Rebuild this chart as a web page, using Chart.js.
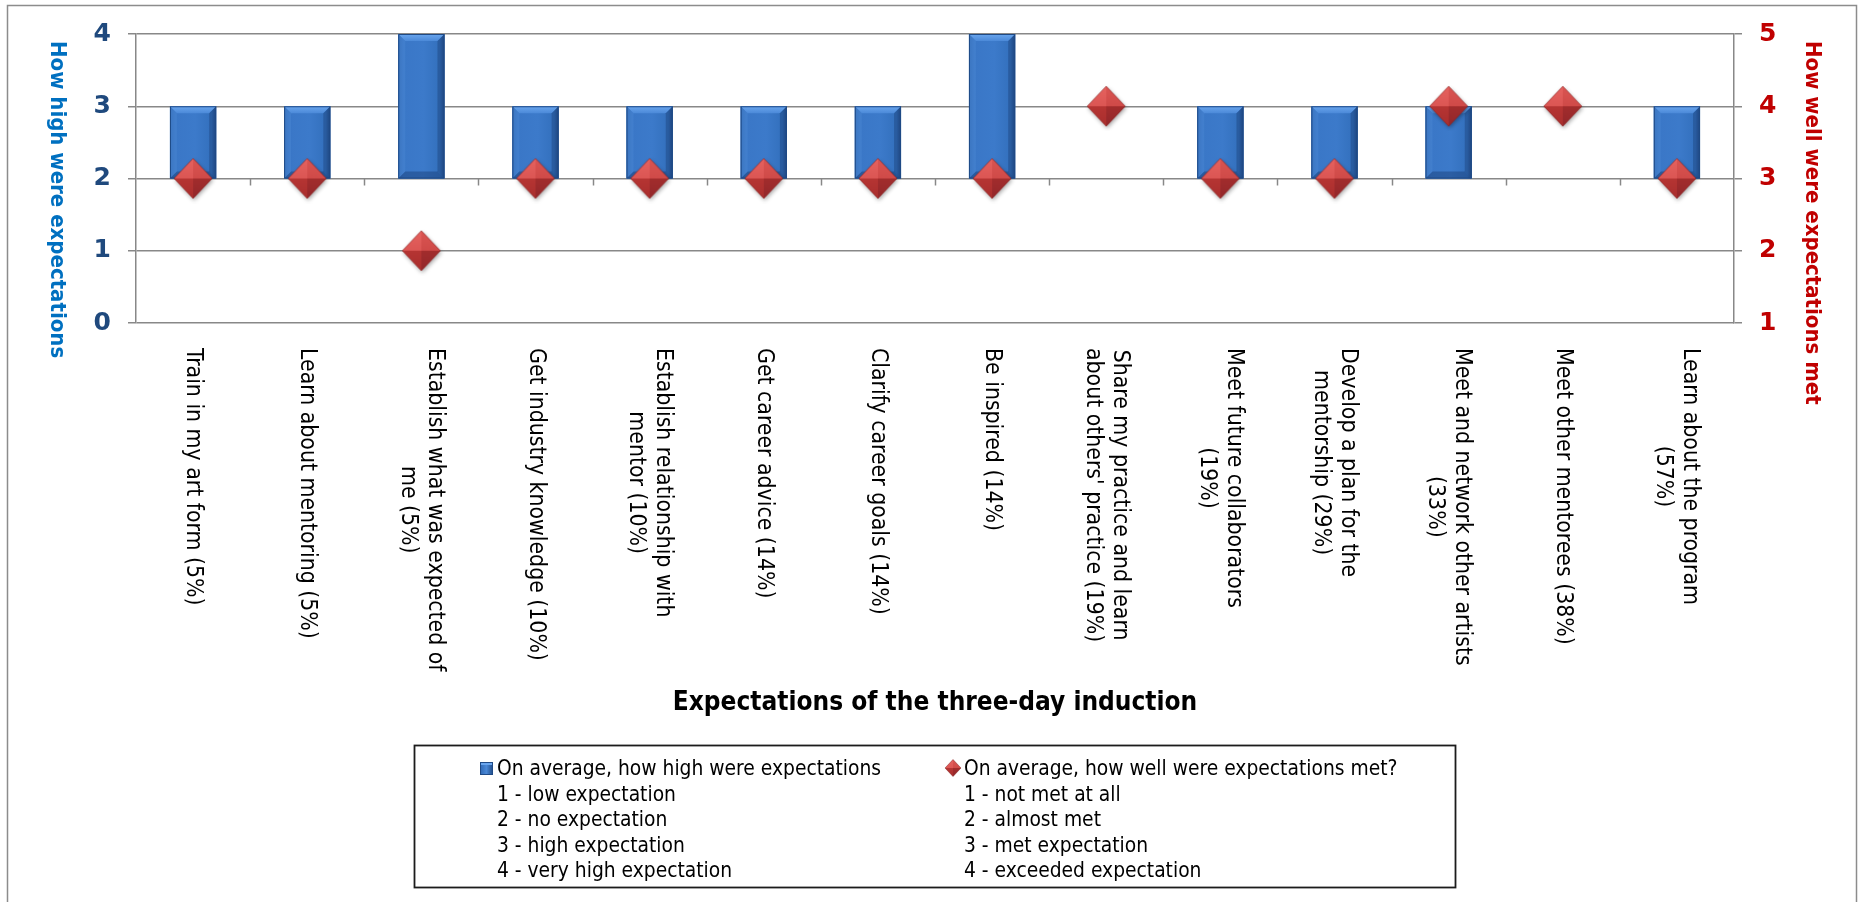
<!DOCTYPE html>
<html>
<head>
<meta charset="utf-8">
<title>Expectations of the three-day induction</title>
<script src="https://cdn.jsdelivr.net/npm/chart.js@4/dist/chart.umd.min.js"></script>
<style>
  html, body { margin: 0; padding: 0; background: #ffffff; }
  #wrap { position: relative; width: 1859px; height: 902px; }
  canvas { display: block; }
</style>
</head>
<body>
<div id="wrap"><canvas id="chart" width="1859" height="902"></canvas></div>
<script>
// ---- data ----
const categories = [
  ['Train in my art form (5%)'],
  ['Learn about mentoring (5%)'],
  ['Establish what was expected of', 'me (5%)'],
  ['Get industry knowledge (10%)'],
  ['Establish relationship with', 'mentor (10%)'],
  ['Get career advice (14%)'],
  ['Clarify career goals (14%)'],
  ['Be inspired (14%)'],
  ['Share my practice and learn', "about others' practice (19%)"],
  ['Meet future collaborators', '(19%)'],
  ['Develop a plan for the', 'mentorship (29%)'],
  ['Meet and network other artists', '(33%)'],
  ['Meet other mentorees (38%)'],
  ['Learn about the program', '(57%)']
];
// average expectation level (left axis, 1-4)
const expectationHigh = [3, 3, 4, 3, 3, 3, 3, 4, 2, 3, 3, 3, 2, 3];
// average rating of how well expectations were met (right axis, 1-4)
const expectationMet = [3, 3, 2, 3, 3, 3, 3, 3, 4, 3, 3, 4, 4, 3];
// the category axis crosses the left value axis here; bars grow from it
const axisCross = 2;
const leftTicks = [0, 1, 2, 3, 4];
const rightTicks = [1, 2, 3, 4, 5];
const seriesNames = ['On average, how high were expectations', 'On average, how well were expectations met?'];
const highScaleText = ['1 - low expectation', '2 - no expectation', '3 - high expectation', '4 - very high expectation'];
const metScaleText = ['1 - not met at all', '2 - almost met', '3 - met expectation', '4 - exceeded expectation'];
const leftTitle = 'How high were expectations';
const rightTitle = 'How well were expectations met';
const xTitle = 'Expectations of the three-day induction';

// ---- styling helpers ----
const COND = '"DejaVu Sans Condensed", "DejaVu Sans", sans-serif';
const GRID = '#888888';

function diamondPath(g, cx, cy, hw, hh) {
  g.beginPath();
  g.moveTo(cx, cy - hh); g.lineTo(cx + hw, cy); g.lineTo(cx, cy + hh); g.lineTo(cx - hw, cy);
  g.closePath();
}
function drawFacetDiamond(g, cx, cy, hw, hh, shadow) {
  if (shadow) {
    g.save();
    g.shadowColor = 'rgba(0,0,0,0.35)'; g.shadowBlur = 4; g.shadowOffsetX = 1; g.shadowOffsetY = 2;
    diamondPath(g, cx, cy, hw, hh); g.fillStyle = '#b83634'; g.fill();
    g.restore();
  }
  const top = [cx, cy - hh], right = [cx + hw, cy], bottom = [cx, cy + hh], left = [cx - hw, cy], c = [cx, cy];
  const facets = [
    [top, left, '#e5625f', '#d24a48'],
    [top, right, '#da5552', '#c5403e'],
    [left, bottom, '#c23b39', '#a92e2d'],
    [right, bottom, '#b13230', '#93272a']
  ];
  facets.forEach(([a, b, c1, c2]) => {
    g.beginPath(); g.moveTo(a[0], a[1]); g.lineTo(b[0], b[1]); g.lineTo(c[0], c[1]); g.closePath();
    const gr = g.createLinearGradient(cx, cy - hh, cx, cy + hh);
    gr.addColorStop(0, c1); gr.addColorStop(1, c2);
    g.fillStyle = gr; g.fill();
  });
  diamondPath(g, cx, cy, hw, hh);
  g.strokeStyle = 'rgba(120,25,25,0.55)'; g.lineWidth = 0.8; g.stroke();
}
function makeDiamondImage(hw, hh) {
  const pad = 5;
  const c = document.createElement('canvas');
  c.width = 2 * hw + 2 * pad; c.height = 2 * hh + 2 * pad;
  drawFacetDiamond(c.getContext('2d'), c.width / 2, c.height / 2, hw, hh, true);
  return c;
}
const diamondImg = makeDiamondImage(19, 20);

function drawBevelBar(ctx, x, top, bottom, w) {
  const l = x - w / 2, r = x + w / 2, h = bottom - top;
  if (h < 1) return;
  ctx.save();
  const face = ctx.createLinearGradient(l, 0, r, 0);
  face.addColorStop(0, '#3069b5'); face.addColorStop(0.12, '#3a77c7');
  face.addColorStop(0.55, '#3c7aca'); face.addColorStop(0.9, '#3370bd'); face.addColorStop(1, '#234f8d');
  ctx.fillStyle = face; ctx.fillRect(l, top, w, h);
  const b = Math.min(7, h / 3);
  // top bevel
  ctx.beginPath(); ctx.moveTo(l, top); ctx.lineTo(r, top); ctx.lineTo(r - b, top + b); ctx.lineTo(l + b, top + b); ctx.closePath();
  const tg = ctx.createLinearGradient(0, top, 0, top + b);
  tg.addColorStop(0, '#6aa6ee'); tg.addColorStop(1, '#4b89d8');
  ctx.fillStyle = tg; ctx.fill();
  // left bevel
  ctx.beginPath(); ctx.moveTo(l, top); ctx.lineTo(l + b, top + b); ctx.lineTo(l + b, bottom - b); ctx.lineTo(l, bottom); ctx.closePath();
  ctx.fillStyle = 'rgba(80,140,215,0.35)'; ctx.fill();
  // right bevel
  ctx.beginPath(); ctx.moveTo(r, top); ctx.lineTo(r - b, top + b); ctx.lineTo(r - b, bottom - b); ctx.lineTo(r, bottom); ctx.closePath();
  ctx.fillStyle = 'rgba(22,55,105,0.35)'; ctx.fill();
  // bottom bevel
  ctx.beginPath(); ctx.moveTo(l, bottom); ctx.lineTo(l + b, bottom - b); ctx.lineTo(r - b, bottom - b); ctx.lineTo(r, bottom); ctx.closePath();
  ctx.fillStyle = 'rgba(25,60,115,0.45)'; ctx.fill();
  ctx.strokeStyle = '#1f4a86'; ctx.lineWidth = 1; ctx.strokeRect(l + 0.5, top + 0.5, w - 1, h - 1);
  ctx.restore();
}

// vertical text reading top to bottom
function drawDownText(ctx, lines, cx, top, gap) {
  const widths = lines.map(t => ctx.measureText(t).width);
  const maxW = Math.max(...widths);
  ctx.save();
  ctx.translate(cx, top);
  ctx.rotate(Math.PI / 2);
  ctx.textAlign = 'left';
  ctx.textBaseline = 'middle';
  lines.forEach((t, j) => {
    const ly = (j - (lines.length - 1) / 2) * gap;
    ctx.fillText(t, (maxW - widths[j]) / 2, ly);
  });
  ctx.restore();
}

const decor = {
  id: 'decor',
  beforeDraw(chart) {
    const ctx = chart.ctx;
    ctx.save();
    ctx.fillStyle = '#ffffff';
    ctx.fillRect(0, 0, chart.width, chart.height);
    ctx.strokeStyle = '#8c8c8c'; ctx.lineWidth = 1.5;
    ctx.strokeRect(7.5, 5.5, 1849, 1000);
    ctx.restore();
  },
  beforeDatasetsDraw(chart) {
    // tick marks on the category axis, which crosses at axisCross
    const ctx = chart.ctx, xs = chart.scales.x, ys = chart.scales.y;
    const y0 = ys.getPixelForValue(axisCross);
    const step = xs.getPixelForValue(1) - xs.getPixelForValue(0);
    const first = xs.getPixelForValue(0) - step / 2;
    ctx.save();
    ctx.strokeStyle = GRID; ctx.lineWidth = 1.5;
    for (let i = 1; i < categories.length; i++) {
      const x = Math.round(first + i * step) + 0.5;
      ctx.beginPath(); ctx.moveTo(x, y0); ctx.lineTo(x, y0 + 7); ctx.stroke();
    }
    ctx.restore();
  },
  afterDatasetDraw(chart, args) {
    if (args.index !== 0) return;
    const ctx = chart.ctx;
    args.meta.data.forEach(bar => {
      const p = bar.getProps(['x', 'y', 'base', 'width'], true);
      drawBevelBar(ctx, p.x, Math.min(p.y, p.base), Math.max(p.y, p.base), p.width);
    });
  },
  afterDraw(chart) {
    const ctx = chart.ctx, xs = chart.scales.x, area = chart.chartArea;
    ctx.save();
    // axis titles
    ctx.font = 'bold 22px ' + COND;
    ctx.fillStyle = '#0070C0';
    drawDownText(ctx, [leftTitle], 57, 41, 0);
    ctx.fillStyle = '#C00000';
    drawDownText(ctx, [rightTitle], 1812, 41, 0);
    // category labels
    ctx.font = '22.8px ' + COND;
    ctx.fillStyle = '#000000';
    categories.forEach((lines, i) => drawDownText(ctx, lines, xs.getPixelForValue(i), 348, 27));
    // category axis title
    ctx.font = 'bold 26px ' + COND;
    ctx.textAlign = 'center'; ctx.textBaseline = 'alphabetic';
    ctx.fillText(xTitle, (area.left + area.right) / 2, 710);
    // legend
    const box = { l: 414, t: 745, r: 1455, b: 887 };
    ctx.strokeStyle = '#1c1c1c'; ctx.lineWidth = 1.8;
    ctx.strokeRect(box.l + 0.5, box.t + 0.5, box.r - box.l, box.b - box.t);
    ctx.font = '20.8px ' + COND;
    ctx.textAlign = 'left'; ctx.fillStyle = '#000000';
    const cols = [{ x: 497, rows: [seriesNames[0]].concat(highScaleText) },
                  { x: 964, rows: [seriesNames[1]].concat(metScaleText) }];
    cols.forEach(col => col.rows.forEach((t, k) => ctx.fillText(t, col.x, 775 + k * 25.5)));
    // legend keys
    const sq = ctx.createLinearGradient(480, 0, 493, 0);
    sq.addColorStop(0, '#2f68b4'); sq.addColorStop(0.5, '#4a88d6'); sq.addColorStop(1, '#1f4a86');
    ctx.fillStyle = sq; ctx.fillRect(480, 762, 13, 13);
    ctx.fillStyle = '#6aa6ee'; ctx.fillRect(481, 762, 11, 3);
    ctx.strokeStyle = '#1f4a86'; ctx.lineWidth = 1; ctx.strokeRect(480.5, 762.5, 12, 12);
    drawFacetDiamond(ctx, 953, 768, 8, 8.5, false);
    ctx.restore();
  }
};

const tickFont = { family: 'DejaVu Sans', weight: 'bold', size: 25 };

new Chart(document.getElementById('chart'), {
  data: {
    labels: categories,
    datasets: [
      {
        type: 'bar',
        label: seriesNames[0],
        data: expectationHigh.map(v => [axisCross, v]),
        yAxisID: 'y',
        order: 1,
        backgroundColor: '#3a77c7',
        borderWidth: 0,
        barPercentage: 0.405,
        categoryPercentage: 1
      },
      {
        type: 'line',
        label: seriesNames[1],
        data: expectationMet,
        yAxisID: 'y2',
        order: 0,
        showLine: false,
        pointStyle: diamondImg,
        pointRadius: 20,
        pointHoverRadius: 20
      }
    ]
  },
  options: {
    responsive: false,
    animation: false,
    events: [],
    layout: { padding: { top: 34, bottom: 579, left: 0, right: 0 } },
    plugins: { legend: { display: false }, tooltip: { enabled: false } },
    scales: {
      x: { type: 'category', display: false, offset: true },
      y: {
        position: 'left',
        min: leftTicks[0], max: leftTicks[leftTicks.length - 1],
        afterFit(s) { s.width = 136; },
        afterBuildTicks(s) { s.ticks = leftTicks.map(v => ({ value: v })); },
        ticks: { color: '#1F497D', font: tickFont, padding: 17 },
        grid: { color: GRID, lineWidth: 1.5, tickLength: 8, tickColor: GRID },
        border: { display: true, color: GRID, width: 1.5 }
      },
      y2: {
        position: 'right',
        min: rightTicks[0], max: rightTicks[rightTicks.length - 1],
        afterFit(s) { s.width = 125; },
        afterBuildTicks(s) { s.ticks = rightTicks.map(v => ({ value: v })); },
        ticks: { color: '#C00000', font: tickFont, padding: 17 },
        grid: { drawOnChartArea: false, tickLength: 8, color: GRID, lineWidth: 1.5 },
        border: { display: true, color: GRID, width: 1.5 }
      }
    }
  },
  plugins: [decor]
});
</script>
</body>
</html>
